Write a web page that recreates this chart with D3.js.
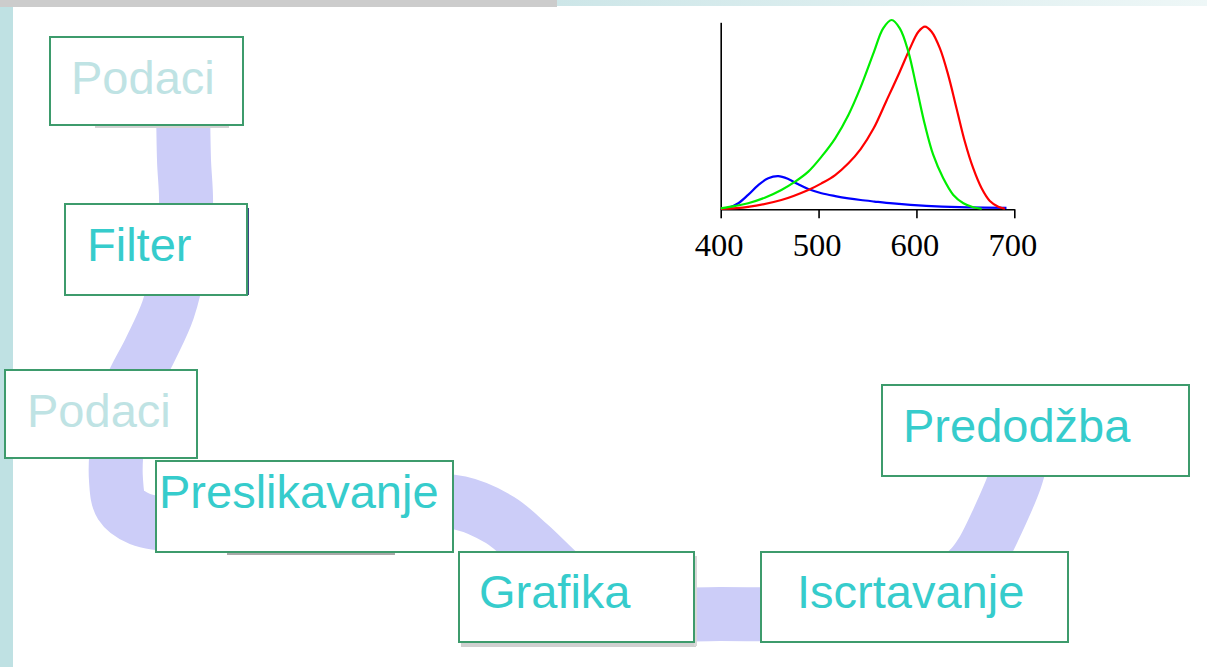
<!DOCTYPE html>
<html>
<head>
<meta charset="utf-8">
<script src="https://cdn.jsdelivr.net/npm/d3@7"></script>
<style>
  html, body { margin: 0; padding: 0; background: #ffffff; }
  svg { display: block; }
</style>
</head>
<body>
<svg id="chart" width="1207" height="667"></svg>
<script>
// ---- Data ----
const ticksNm = [400, 500, 600, 700];
const tickLabels = ["400", "500", "600", "700"];

const greenSeries = [
  [400,0.005],[415,0.018],[428,0.032],[445,0.061],[462,0.102],[476,0.146],[489.5,0.199],
  [503,0.278],[517,0.375],[530.5,0.498],[543,0.645],[556.5,0.83],[566,0.956],[574.7,1.0],
  [583,0.956],[591.7,0.833],[600.3,0.639],[608.7,0.445],[617.2,0.287],[627.4,0.164],
  [637.7,0.076],[648,0.032],[658,0.011],[666.7,0.003]
];
const redSeries = [
  [400,0.002],[428,0.013],[462,0.049],[489.5,0.102],[503,0.137],[517,0.181],[530.5,0.243],
  [543,0.318],[556,0.425],[569.5,0.575],[583,0.727],[593.4,0.85],[602,0.938],[608.7,0.965],
  [615.5,0.938],[624,0.85],[632.5,0.709],[641,0.533],[649.5,0.357],[658,0.217],[666.6,0.111],
  [675,0.044],[683.6,0.014],[690.4,0.003]
];
const blueSeries = [
  [400,0.002],[408,0.008],[418,0.032],[428,0.076],[438.4,0.128],[448.6,0.164],[458.8,0.175],
  [469,0.16],[479.3,0.132],[489.5,0.107],[503,0.085],[517,0.07],[530.5,0.058],[543,0.049],
  [557,0.041],[576,0.031],[610,0.018],[644,0.011],[692,0.008]
];

// Pipeline stages (label text, faded or active)
const stageLabels = ["Podaci", "Filter", "Podaci", "Preslikavanje", "Grafika", "Iscrtavanje", "Predodžba"];
const stageFaded  = [true, false, true, false, false, false, false];

// ---- Layout (positions & styles, not data) ----
const svg = d3.select("#chart");

// slide decoration
svg.append("rect").attr("x", 0).attr("y", 0).attr("width", 557).attr("height", 7).attr("fill", "#cccccc");
const defs = svg.append("defs");
const grad = defs.append("linearGradient").attr("id", "topgrad").attr("x1", "0").attr("x2", "1");
grad.append("stop").attr("offset", "0").attr("stop-color", "#cde6e8");
grad.append("stop").attr("offset", "1").attr("stop-color", "#eef7f7");
svg.append("rect").attr("x", 557).attr("y", 0).attr("width", 650).attr("height", 6).attr("fill", "url(#topgrad)");
svg.append("rect").attr("x", 0).attr("y", 7).attr("width", 13).attr("height", 660).attr("fill", "#bfe1e3");

// pipeline band
const bandPts = [
  [183,100],[184,160],[186,205],[180,260],[168,310],[150,350],[130,390],[118,440],[116,480],
  [121,505],[140,519],[175,524],[300,518],[420,502],[460,503],[500,520],[530,545],[565,578],
  [600,604],[640,614],[720,614],[800,614],[880,609],[940,590],[970,568],[982,552],[998,520],
  [1015,480],[1022,455]
];
svg.append("path")
  .attr("d", d3.line().curve(d3.curveCatmullRom.alpha(0.5))(bandPts))
  .attr("fill", "none").attr("stroke", "#cccdf8").attr("stroke-width", 54).attr("stroke-linecap", "butt");

// box geometry
const boxes = [
  {x:50,  y:37,  w:193, h:88, tx:71,  ty:94},
  {x:65,  y:204, w:182, h:91, tx:87,  ty:261},
  {x:5,   y:370, w:192, h:88, tx:27,  ty:427},
  {x:156, y:461, w:297, h:91, tx:159, ty:508},
  {x:459, y:552, w:235, h:90, tx:479, ty:608},
  {x:761, y:552, w:307, h:90, tx:797, ty:608},
  {x:882, y:385, w:307, h:91, tx:903, ty:442}
];

// shadows
svg.append("rect").attr("x", 95).attr("y", 125).attr("width", 134).attr("height", 3).attr("fill", "#d2d2d2");
svg.append("rect").attr("x", 247).attr("y", 208).attr("width", 2).attr("height", 87).attr("fill", "#3f4585");
svg.append("rect").attr("x", 227).attr("y", 552).attr("width", 168).attr("height", 3).attr("fill", "#a9a9a9");
svg.append("rect").attr("x", 461).attr("y", 642).attr("width", 235).attr("height", 5).attr("fill", "#d0d0d0");
svg.append("rect").attr("x", 694).attr("y", 556).attr("width", 3).attr("height", 90).attr("fill", "#d8d8d8");

const g = svg.selectAll("g.stage").data(stageLabels).enter().append("g").attr("class", "stage");
g.append("rect")
  .attr("x", (d,i) => boxes[i].x).attr("y", (d,i) => boxes[i].y)
  .attr("width", (d,i) => boxes[i].w).attr("height", (d,i) => boxes[i].h)
  .attr("fill", "#ffffff").attr("stroke", "#3d9b6c").attr("stroke-width", 2);
g.append("text")
  .attr("x", (d,i) => boxes[i].tx).attr("y", (d,i) => boxes[i].ty)
  .attr("font-family", "'Liberation Sans', Arial, sans-serif").attr("font-size", 47)
  .attr("fill", (d,i) => stageFaded[i] ? "#bfe3e4" : "#36cccc")
  .text(d => d);

// ---- Spectral chart ----
const x = d3.scaleLinear().domain([400, 700]).range([720.7, 1014.3]);
const y = d3.scaleLinear().domain([0, 1]).range([209.3, 20]);
const yAxisScale = d3.scaleLinear().domain([0, 0.988]).range([209.3, 22.3]);

const line = d3.line().x(d => x(d[0])).y(d => y(d[1])).curve(d3.curveCatmullRom.alpha(0.5));
const chart = svg.append("g");

chart.append("g").attr("transform", "translate(720.7,0)")
  .call(d3.axisLeft(yAxisScale).tickValues([]).tickSizeOuter(0))
  .call(s => s.select(".domain").attr("stroke", "#000").attr("stroke-width", 1.6));

const xa = chart.append("g").attr("transform", "translate(0,209.3)")
  .call(d3.axisBottom(x).tickValues(ticksNm).tickFormat((d,i) => tickLabels[i]).tickSize(9).tickSizeOuter(0));
xa.select(".domain").attr("stroke", "#000").attr("stroke-width", 1.6);
xa.selectAll(".tick line").attr("stroke", "#000").attr("stroke-width", 1.6);
xa.selectAll(".tick text")
  .attr("y", 47).attr("dy", 0).attr("dx", -2)
  .attr("font-family", "'Liberation Serif', 'Times New Roman', serif")
  .attr("font-size", 32.5).attr("fill", "#000");

const series = [
  {data: blueSeries, color: "#0000ff"},
  {data: redSeries, color: "#ff0000"},
  {data: greenSeries, color: "#00ee00"}
];
chart.selectAll("path.spec").data(series).enter().append("path")
  .attr("class", "spec")
  .attr("d", d => line(d.data))
  .attr("fill", "none").attr("stroke", d => d.color).attr("stroke-width", 2.2);
</script>
</body>
</html>
